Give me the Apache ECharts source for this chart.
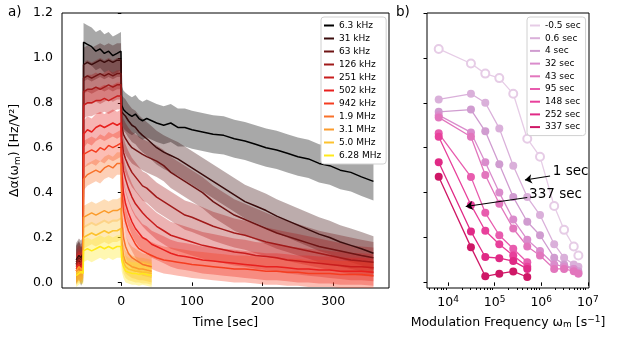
<!DOCTYPE html>
<html style="height: 100%">
<head>
<meta charset="utf-8">
<script src="https://cdn.jsdelivr.net/npm/echarts@6/dist/echarts.min.js"></script>
</head>
<body style="height: 100%; margin: 0">
<div id="container" style="width: 623px; height: 344px"></div>
<script type="text/javascript">
// ---- panel a: time traces ----
var time = [-64, -60, -57, -54,
  -53.5, -48, -42, -36, -30, -24, -18, -12, -6, -0.5,
  0.5, 3, 6, 10, 15, 20, 25, 30, 36, 43,
  50, 60, 70, 80, 90, 100, 115, 130, 145, 160, 175, 190, 205, 220, 235, 250, 265, 280, 295, 310, 325, 340, 357];

var freqLabels = ['6.3 kHz', '31 kHz', '63 kHz', '126 kHz', '251 kHz', '502 kHz', '942 kHz', '1.9 MHz', '3.1 MHz', '5.0 MHz', '6.28 MHz'];

var sig6k3 = [0.08, 0.10, 0.07, 0.09,
  1.07, 1.06, 1.05, 1.03, 1.04, 1.02, 1.03, 1.01, 1.02, 1.03,
  0.79, 0.77, 0.76, 0.75, 0.74, 0.75, 0.73, 0.72, 0.73, 0.72,
  0.71, 0.70, 0.71, 0.69, 0.69, 0.68, 0.67, 0.66, 0.655, 0.64, 0.63, 0.615, 0.60, 0.59, 0.575, 0.56, 0.55, 0.53, 0.52, 0.50, 0.49, 0.47, 0.45];
var sig31k = [0.10, 0.12, 0.11, 0.13,
  0.97, 0.98, 0.97, 0.98, 0.99, 0.98, 0.99, 0.98, 0.99, 0.99,
  0.76, 0.75, 0.74, 0.72, 0.70, 0.69, 0.67, 0.655, 0.64, 0.62,
  0.60, 0.58, 0.565, 0.55, 0.53, 0.51, 0.48, 0.45, 0.42, 0.39, 0.36, 0.34, 0.32, 0.295, 0.275, 0.255, 0.235, 0.215, 0.20, 0.18, 0.165, 0.15, 0.13];
var sig63k = [0.09, 0.11, 0.10, 0.12,
  0.91, 0.92, 0.91, 0.92, 0.93, 0.92, 0.93, 0.92, 0.93, 0.93,
  0.70, 0.66, 0.64, 0.62, 0.60, 0.59, 0.58, 0.57, 0.56, 0.55,
  0.54, 0.52, 0.49, 0.47, 0.45, 0.43, 0.40, 0.36, 0.33, 0.30, 0.28, 0.26, 0.24, 0.22, 0.205, 0.19, 0.175, 0.16, 0.15, 0.14, 0.13, 0.12, 0.11];
var sig126k = [0.08, 0.10, 0.09, 0.11,
  0.85, 0.86, 0.86, 0.87, 0.86, 0.87, 0.88, 0.87, 0.88, 0.88,
  0.64, 0.58, 0.55, 0.52, 0.49, 0.47, 0.45, 0.43, 0.42, 0.40,
  0.38, 0.36, 0.34, 0.32, 0.30, 0.29, 0.27, 0.25, 0.235, 0.22, 0.21, 0.195, 0.18, 0.17, 0.16, 0.15, 0.14, 0.13, 0.12, 0.11, 0.10, 0.095, 0.09];
var sig251k = [0.07, 0.09, 0.08, 0.10,
  0.79, 0.80, 0.80, 0.81, 0.81, 0.82, 0.81, 0.82, 0.83, 0.83,
  0.58, 0.50, 0.46, 0.42, 0.38, 0.35, 0.33, 0.31, 0.29, 0.27,
  0.25, 0.23, 0.21, 0.20, 0.19, 0.18, 0.165, 0.155, 0.145, 0.135, 0.13, 0.12, 0.115, 0.11, 0.10, 0.095, 0.09, 0.085, 0.08, 0.075, 0.07, 0.07, 0.065];
var sig502k = [0.06, 0.08, 0.07, 0.09,
  0.66, 0.68, 0.67, 0.69, 0.70, 0.69, 0.70, 0.71, 0.70, 0.71,
  0.50, 0.40, 0.35, 0.31, 0.27, 0.24, 0.22, 0.20, 0.19, 0.17,
  0.16, 0.145, 0.13, 0.12, 0.115, 0.11, 0.10, 0.095, 0.09, 0.085, 0.08, 0.075, 0.07, 0.07, 0.065, 0.06, 0.06, 0.055, 0.055, 0.05, 0.05, 0.05, 0.045];
var sig942k = [0.05, 0.07, 0.06, 0.08,
  0.57, 0.58, 0.59, 0.58, 0.60, 0.59, 0.61, 0.60, 0.61, 0.62,
  0.42, 0.32, 0.27, 0.23, 0.20, 0.17, 0.15, 0.14, 0.13, 0.12,
  0.11, 0.10, 0.095, 0.09, 0.085, 0.08, 0.075, 0.07, 0.065, 0.06, 0.06, 0.055, 0.05, 0.05, 0.045, 0.045, 0.04, 0.04, 0.04, 0.035, 0.035, 0.035, 0.03];
var sig1M9 = [0.05, 0.06, 0.05, 0.07,
  0.46, 0.48, 0.49, 0.50, 0.49, 0.51, 0.52, 0.51, 0.53, 0.53,
  0.30, 0.20, 0.16, 0.13, 0.11, 0.10, 0.09, 0.08, 0.075, 0.07];
var sig3M1 = [0.05, 0.07, 0.06, 0.06,
  0.29, 0.30, 0.31, 0.30, 0.31, 0.32, 0.31, 0.32, 0.32, 0.33,
  0.20, 0.12, 0.09, 0.08, 0.07, 0.065, 0.06, 0.06, 0.055, 0.05];
var sig5M0 = [0.04, 0.05, 0.04, 0.05,
  0.20, 0.21, 0.22, 0.21, 0.22, 0.23, 0.22, 0.23, 0.23, 0.24,
  0.14, 0.09, 0.07, 0.06, 0.055, 0.05, 0.05, 0.045, 0.045, 0.04];
var sig6M28 = [0.03, 0.04, 0.05, 0.04,
  0.14, 0.15, 0.14, 0.15, 0.16, 0.15, 0.16, 0.15, 0.16, 0.16,
  0.10, 0.07, 0.05, 0.045, 0.04, 0.04, 0.035, 0.04, 0.035, 0.03];

// half-width of the raw (noisy) trace around each curve
var noise = [0.085, 0.075, 0.07, 0.065, 0.06, 0.06, 0.06, 0.05, 0.05, 0.05, 0.05];

// ---- panel b: spectra at fixed delays ----
var freqs = [6.3e3, 31e3, 63e3, 126e3, 251e3, 502e3, 942e3, 1.9e6, 3.1e6, 5.0e6, 6.28e6];
var delayLabels = ['-0.5 sec', '0.6 sec', '4 sec', '32 sec', '43 sec', '95 sec', '148 sec', '252 sec', '337 sec'];
var dm05 = [1.04, 0.975, 0.93, 0.91, 0.84, 0.64, 0.56, 0.34, 0.234, 0.16, 0.12];
var d06 = [0.815, 0.84, 0.80, 0.686, 0.52, 0.38, 0.30, 0.17, 0.11, 0.08, 0.07];
var d4 = [0.76, 0.77, 0.673, 0.526, 0.38, 0.27, 0.21, 0.11, 0.08, 0.06, 0.05];
var d32 = [0.745, 0.668, 0.535, 0.40, 0.28, 0.19, 0.14, 0.08, 0.07, 0.06, 0.04];
var d43 = [0.735, 0.649, 0.478, 0.35, 0.24, 0.16, 0.12, 0.06, 0.06, 0.05, 0.04];
var d95 = [0.664, 0.47, 0.31, 0.21, 0.15, 0.09];
var d148 = [0.649, 0.345, 0.23, 0.17, 0.12, 0.07];
var d252 = [0.535, 0.227, 0.113, 0.108, 0.095, 0.06];
var d337 = [0.471, 0.157, 0.027, 0.039, 0.049, 0.024];

var yTicks = [0, 0.2, 0.4, 0.6, 0.8, 1.0, 1.2];
var tTicks = [0, 100, 200, 300];
var decades = [4, 5, 6, 7];

var font = 'DejaVu Sans';
var lineColors = ['#000000', '#3a0c0c', '#6e1414', '#a01a1a', '#c81d1d', '#e8201e', '#f53d20', '#f8712a', '#fb9b2c', '#fdc22e', '#ffe91a'];
var delayColors = ['#e6cce6', '#dab0da', '#d09cd0', '#da8ccc', '#e276bd', '#e85cae', '#e8409b', '#e02a86', '#cf1766'];

var sigs = [sig6k3, sig31k, sig63k, sig126k, sig251k, sig502k, sig942k, sig1M9, sig3M1, sig5M0, sig6M28];
var delays = [dm05, d06, d4, d32, d43, d95, d148, d252, d337];

function bandRender(rows, color) {
    return function (params, api) {
        if (params.dataIndex !== 0) return;
        var pts = [];
        for (var k = 0; k < rows.length; k++) pts.push(api.coord([rows[k][0], rows[k][2]]));
        for (var k = rows.length - 1; k >= 0; k--) pts.push(api.coord([rows[k][0], rows[k][1]]));
        return {type: 'polygon', shape: {points: pts}, style: {fill: color, opacity: 0.34}};
    };
}

var series = [];
sigs.forEach(function (s, i) {
    var rows = [], ln = [];
    for (var k = 0; k < s.length; k++) {
        rows.push([time[k], s[k] - noise[i], s[k] + noise[i]]);
        ln.push([time[k], s[k]]);
    }
    series.push({
        name: 'band' + i, type: 'custom', xAxisIndex: 0, yAxisIndex: 0,
        data: rows, encode: {x: 0, y: [1, 2]}, clip: true, silent: true,
        renderItem: bandRender(rows, lineColors[i])
    });
    series.push({
        name: freqLabels[i], type: 'line', xAxisIndex: 0, yAxisIndex: 0,
        data: ln, symbol: 'none', color: lineColors[i],
        lineStyle: {width: 1.5}
    });
});

delays.forEach(function (d, i) {
    var pts = [];
    for (var k = 0; k < d.length; k++) pts.push([Math.log10(freqs[k]), d[k]]);
    series.push({
        name: delayLabels[i], type: 'line', xAxisIndex: 1, yAxisIndex: 1,
        data: pts, color: delayColors[i],
        symbol: i === 0 ? 'emptyCircle' : 'circle', symbolSize: 8,
        itemStyle: i === 0 ? {borderWidth: 1.3} : {},
        lineStyle: {width: 1.3}
    });
});

// arrows and labels (data coords of panel b)
series.push({
    type: 'line', xAxisIndex: 1, yAxisIndex: 1, data: [], silent: true,
    markLine: {
        silent: true, symbol: ['none', 'arrow'], symbolSize: 7,
        lineStyle: {color: '#000', width: 1.1, type: 'solid'},
        label: {show: false},
        data: [
            [{coord: [6.19, 0.474]}, {coord: [5.65, 0.456]}],
            [{coord: [5.70, 0.378]}, {coord: [4.38, 0.338]}]
        ]
    },
    markPoint: {
        silent: true, symbolSize: 0,
        label: {show: true, position: 'right', distance: 0, color: '#000', fontSize: 13.5, fontFamily: font,
            formatter: function (p) { return p.name; }},
        data: [
            {name: '1 sec', coord: [6.25, 0.492]},
            {name: '337 sec', coord: [5.74, 0.39]}
        ]
    }
});

var minorTicks = [];
for (var e = 3; e <= 6; e++) {
    for (var m = 2; m <= 9; m++) {
        var v = e + Math.log10(m);
        if (v > 3.548 && v < 7.026) minorTicks.push(v);
    }
}

var labelStyle = {color: '#000', fontSize: 12.5, fontFamily: font};

var option = {
    animation: false,
    textStyle: {fontFamily: font},
    title: [
        {text: 'a)', left: 8, top: 5, padding: 0, textStyle: {fontSize: 13.5, fontWeight: 'normal', color: '#000', fontFamily: font}},
        {text: 'b)', left: 396, top: 5, padding: 0, textStyle: {fontSize: 13.5, fontWeight: 'normal', color: '#000', fontFamily: font}}
    ],
    legend: [{
        data: freqLabels, orient: 'vertical', left: 321, top: 17,
        icon: 'rect', itemWidth: 10, itemHeight: 2, itemGap: 2,
        textStyle: {fontSize: 9, lineHeight: 11, color: '#000', fontFamily: font},
        backgroundColor: '#fff', borderColor: '#d0d0d0', borderWidth: 1, borderRadius: 3,
        padding: [3, 5, 3, 3]
    }, {
        data: delayLabels, orient: 'vertical', left: 527, top: 17,
        icon: 'rect', itemWidth: 10, itemHeight: 2, itemGap: 1.7,
        textStyle: {fontSize: 9, lineHeight: 11, color: '#000', fontFamily: font},
        backgroundColor: '#fff', borderColor: '#d0d0d0', borderWidth: 1, borderRadius: 3,
        padding: [3, 5, 3, 3]
    }],
    grid: [
        {left: 62, top: 13, width: 327, height: 275, show: true, borderColor: '#000', borderWidth: 1, backgroundColor: 'transparent'},
        {left: 427, top: 13, width: 162, height: 275, show: true, borderColor: '#000', borderWidth: 1, backgroundColor: 'transparent'}
    ],
    xAxis: [{
        gridIndex: 0, type: 'value', min: -84, max: 379,
        name: 'Time [sec]', nameLocation: 'middle', nameGap: 28,
        nameTextStyle: labelStyle,
        axisLine: {show: false}, splitLine: {show: false},
        axisTick: {customValues: tTicks, length: 3.5, lineStyle: {color: '#000'}},
        axisLabel: Object.assign({customValues: tTicks, margin: 7}, labelStyle)
    }, {
        gridIndex: 1, type: 'value', min: 3.548, max: 7.026, position: 'bottom',
        name: 'Modulation Frequency ω{sub|m} [s{sup|−1}]', nameLocation: 'middle', nameGap: 27,
        nameTextStyle: Object.assign({
            rich: {sub: {fontSize: 9, padding: [5, 0, 0, 0], fontFamily: font, color: '#000'},
                   sup: {fontSize: 9, padding: [0, 0, 6, 0], fontFamily: font, color: '#000'}}
        }, labelStyle),
        axisLine: {show: false}, splitLine: {show: false},
        axisTick: {customValues: decades, length: 3.5, lineStyle: {color: '#000'}},
        axisLabel: Object.assign({
            customValues: decades, margin: 7,
            formatter: function (v) { return '10{sup|' + v + '}'; },
            rich: {sup: {fontSize: 9, padding: [0, 0, 7, 0], fontFamily: font, color: '#000'}}
        }, labelStyle)
    }, {
        gridIndex: 1, type: 'value', min: 3.548, max: 7.026, position: 'bottom',
        axisLine: {show: false}, splitLine: {show: false},
        axisTick: {customValues: minorTicks, length: 2, lineStyle: {color: '#000'}},
        axisLabel: {show: false}
    }],
    yAxis: [{
        gridIndex: 0, type: 'value', min: -0.025, max: 1.2,
        name: 'Δα(ω{sub|m}) [Hz/V²]', nameLocation: 'middle', nameGap: 36,
        nameTextStyle: Object.assign({
            rich: {sub: {fontSize: 9, padding: [5, 0, 0, 0], fontFamily: font, color: '#000'}}
        }, labelStyle),
        axisLine: {show: false}, splitLine: {show: false},
        axisTick: {customValues: yTicks, length: 3.5, lineStyle: {color: '#000'}},
        axisLabel: Object.assign({customValues: yTicks, margin: 9,
            formatter: function (v) { return v.toFixed(1); }}, labelStyle)
    }, {
        gridIndex: 1, type: 'value', min: -0.025, max: 1.2,
        axisLine: {show: false}, splitLine: {show: false},
        axisTick: {customValues: yTicks, length: 3.5, lineStyle: {color: '#000'}},
        axisLabel: {show: false}
    }],
    series: series
};

var myChart = echarts.init(document.getElementById('container'));
myChart.setOption(option);
</script>
</body>
</html>
